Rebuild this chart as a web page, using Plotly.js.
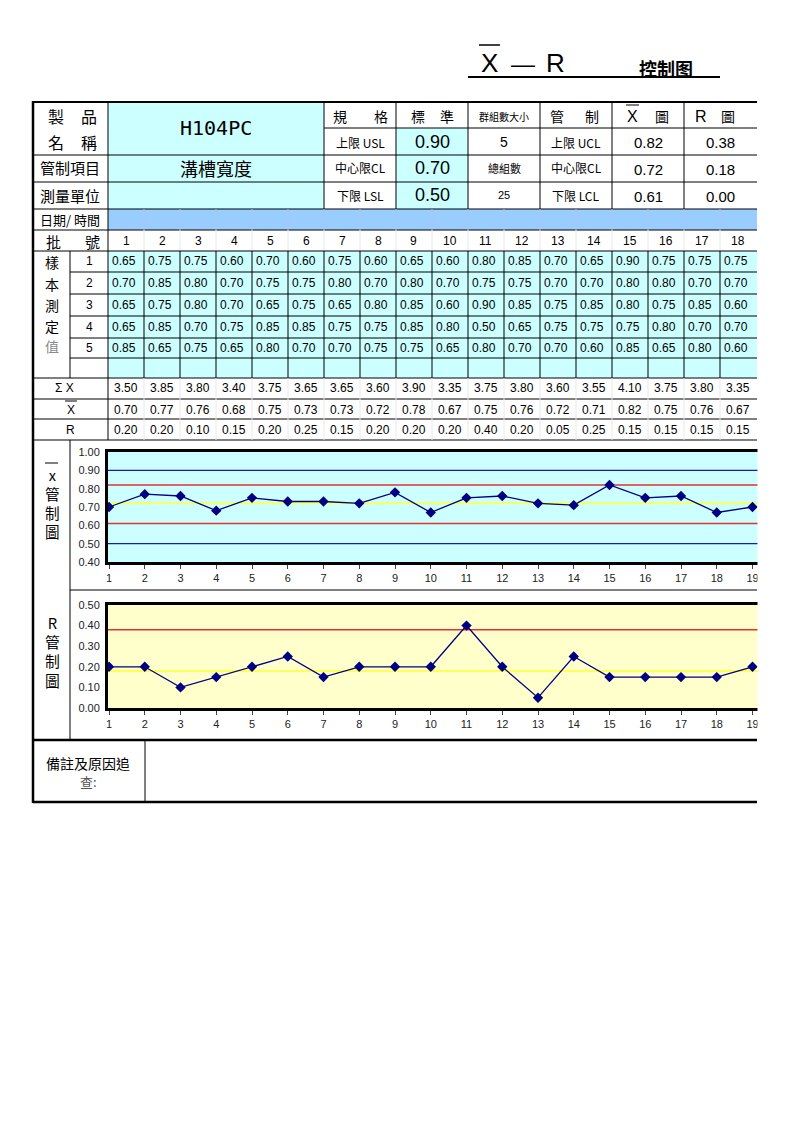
<!DOCTYPE html>
<html><head><meta charset="utf-8">
<script src="https://cdn.plot.ly/plotly-3.0.1.min.js"></script>
<style>html,body{margin:0;padding:0;background:#fff}#chart{width:793px;height:1122px}</style>
</head><body><div id="chart"></div>
<script>
// ---------- data ----------
const batchNo = [1,2,3,4,5,6,7,8,9,10,11,12,13,14,15,16,17,18];
const sample1 = [0.65,0.75,0.75,0.60,0.70,0.60,0.75,0.60,0.65,0.60,0.80,0.85,0.70,0.65,0.90,0.75,0.75,0.75];
const sample2 = [0.70,0.85,0.80,0.70,0.75,0.75,0.80,0.70,0.80,0.70,0.75,0.75,0.70,0.70,0.80,0.80,0.70,0.70];
const sample3 = [0.65,0.75,0.80,0.70,0.65,0.75,0.65,0.80,0.85,0.60,0.90,0.85,0.75,0.85,0.80,0.75,0.85,0.60];
const sample4 = [0.65,0.85,0.70,0.75,0.85,0.85,0.75,0.75,0.85,0.80,0.50,0.65,0.75,0.75,0.75,0.80,0.70,0.70];
const sample5 = [0.85,0.65,0.75,0.65,0.80,0.70,0.70,0.75,0.75,0.65,0.80,0.70,0.70,0.60,0.85,0.65,0.80,0.60];
const sumX    = [3.50,3.85,3.80,3.40,3.75,3.65,3.65,3.60,3.90,3.35,3.75,3.80,3.60,3.55,4.10,3.75,3.80,3.35];
const xbarVals= [0.70,0.77,0.76,0.68,0.75,0.73,0.73,0.72,0.78,0.67,0.75,0.76,0.72,0.71,0.82,0.75,0.76,0.67];
const rangeVals=[0.20,0.20,0.10,0.15,0.20,0.25,0.15,0.20,0.20,0.20,0.40,0.20,0.05,0.25,0.15,0.15,0.15,0.15];
// chart points (19th group visible at the cut edge)
const chartX     = [1,2,3,4,5,6,7,8,9,10,11,12,13,14,15,16,17,18,19];
const chartXbar  = [0.70,0.77,0.76,0.68,0.75,0.73,0.73,0.72,0.78,0.67,0.75,0.76,0.72,0.71,0.82,0.75,0.76,0.67,0.70];
const chartRange = [0.20,0.20,0.10,0.15,0.20,0.25,0.15,0.20,0.20,0.20,0.40,0.20,0.05,0.25,0.15,0.15,0.15,0.15,0.20];
// spec / control limits
const specLimits = ['0.90','0.70','0.50'];          // USL, CL, LSL
const xbarLimits = ['0.82','0.72','0.61'];          // UCL, CL, LCL
const rLimits    = ['0.38','0.18','0.00'];          // UCL, CL, LCL
const xbarUCL = 0.82, xbarCL = 0.72, xbarLCL = 0.61, USL = 0.90, LSL = 0.50;
const rUCL = 0.38, rCL = 0.18;
const groupSize = '5', groupCount = '25';
const productName = 'H104PC', controlItem = '溝槽寬度';

// ---------- helpers ----------
const W = 793, H = 1122;
const FONT = 'Liberation Sans, Arial, Noto Sans CJK TC, sans-serif';
const CJK = 'Noto Sans CJK TC, Liberation Sans, sans-serif';
const px = x => x / W, py = y => 1 - y / H;
const shapes = [], ann = [];
function line(x0, y0, x1, y1, color, w) {
  shapes.push({type:'line', xref:'paper', yref:'paper', x0:px(x0), y0:py(y0), x1:px(x1), y1:py(y1),
    line:{color:color || '#000', width:w || 1}, layer:'above'});
}
function rect(x0, y0, x1, y1, fill, layer) {
  shapes.push({type:'rect', xref:'paper', yref:'paper', x0:px(x0), y0:py(y0), x1:px(x1), y1:py(y1),
    fillcolor:fill, line:{width:0}, layer:layer || 'below'});
}
function text(x, y, t, size, opts) {
  const o = Object.assign({family:FONT, color:'#000', xanchor:'center'}, opts || {});
  ann.push({xref:'paper', yref:'paper', x:px(x), y:py(y), text:t, showarrow:false,
    font:{family:o.family, size:size || 12, color:o.color}, xanchor:o.xanchor, yanchor:'middle'});
}

const colX = i => 108 + 36 * i;       // left edge of data column i (0-based)
const colC = i => 126 + 36 * i;       // center

// ---------- title ----------
text(489.5, 63, 'X', 26);
line(479, 45, 500, 45, '#000', 1.5);
text(523, 64, '—', 24);
text(555, 63, 'R', 26);
text(666, 68, '<b>控制图</b>', 18, {family:CJK});
line(468, 77, 720, 77, '#000', 2);

// ---------- fills ----------
rect(108, 102, 324, 209, '#CCFFFF');
rect(396, 128, 468, 209, '#CCFFFF');
rect(108, 209, 757, 230, '#99CCFF');
rect(108, 251, 757, 378, '#CCFFFF');

// ---------- header grid ----------
[324, 396, 468, 540, 612, 684].forEach(x => line(x, 102, x, 209));
line(324, 128, 757, 128);
[155, 182, 209, 230].forEach(y => line(33, y, 757, y));
line(108, 102, 108, 440);
for (let i = 1; i < 18; i++) line(colX(i), 209, colX(i), 230, '#A8C8EC', 1);
for (let i = 1; i < 18; i++) line(colX(i), 230, colX(i), 251, '#E8E8E8', 1);
// sample rows
line(70, 251, 70, 378);
line(33, 251, 757, 251);
[272, 294, 316, 338, 358].forEach(y => line(70, y, 757, y));
for (let i = 1; i < 18; i++) line(colX(i), 251, colX(i), 378);
[378, 399, 419, 440].forEach(y => line(33, y, 757, y));
for (let i = 1; i < 18; i++) line(colX(i), 378, colX(i), 440, '#E8E8E8', 1);
// chart section
line(70, 440, 70, 740);
line(70, 590, 757, 590);
line(33, 740, 757, 740, '#000', 2.5);
line(145, 740, 145, 802);
// outer frame
line(33, 102, 757, 102, '#000', 2);
line(33, 101, 33, 803, '#000', 2.5);
line(33, 802, 757, 802, '#000', 2.5);

// ---------- header texts ----------
text(56, 116, '製', 16, {family:CJK}); text(89, 116, '品', 16, {family:CJK});
text(56, 142, '名', 16, {family:CJK}); text(89, 142, '稱', 16, {family:CJK});
text(216, 128, productName, 20, {family:'DejaVu Sans Mono, monospace'});
text(70, 168, '管制項目', 15, {family:CJK});
text(216, 168, controlItem, 18, {family:CJK});
text(70, 195, '測量單位', 15, {family:CJK});
text(340, 116, '規', 14, {family:CJK}); text(381, 116, '格', 14, {family:CJK});
text(360, 142, '上限 USL', 12, {family:CJK});
text(360, 168, '中心限CL', 12, {family:CJK});
text(360, 195, '下限 LSL', 12, {family:CJK});
text(418, 116, '標', 14, {family:CJK}); text(447, 116, '準', 14, {family:CJK});
specLimits.forEach((v, k) => text(432, 142 + 26.5 * k, v, 18));
text(504, 116, '群組數大小', 10, {family:CJK});
text(504, 142, groupSize, 14);
text(504, 168, '總組數', 11, {family:CJK});
text(504, 195, groupCount, 11);
text(557, 116, '管', 14, {family:CJK}); text(592, 116, '制', 14, {family:CJK});
text(576, 142, '上限 UCL', 12, {family:CJK});
text(576, 168, '中心限CL', 12, {family:CJK});
text(576, 195, '下限 LCL', 12, {family:CJK});
text(632, 117, 'X', 16); line(626, 105, 639, 105, '#000', 1);
text(662, 116, '圖', 14, {family:CJK});
text(701, 117, 'R', 16); text(728, 116, '圖', 14, {family:CJK});
xbarLimits.forEach((v, k) => text(648, 142 + 27 * k, v, 15));
rLimits.forEach((v, k) => text(720, 142 + 27 * k, v, 15));

text(70, 219.5, '日期/ 時間', 13, {family:CJK});
text(53, 241, '批', 15, {family:CJK}); text(92, 241, '號', 15, {family:CJK});
batchNo.forEach((b, i) => text(colC(i), 241, String(b), 12));

// sample labels
[['樣',262],['本',284],['測',305],['定',326]].forEach(([t,y]) => text(52, y, t, 14, {family:CJK}));
text(52, 346, '值', 14, {family:CJK, color:'#8a8a8a'});
const rowsY = [261.5, 283, 305, 327, 348];
[1,2,3,4,5].forEach((n, k) => text(89, rowsY[k], String(n), 12));
[sample1, sample2, sample3, sample4, sample5].forEach((arr, k) => {
  arr.forEach((v, i) => text(colX(i) + 1.5, rowsY[k], v.toFixed(2), 12, {xanchor:'left'}));
});
text(64, 388.5, 'Σ X', 12);
text(71, 410, 'X', 12); line(65, 401, 77, 401, '#000', 1);
text(70, 430, 'R', 12);
sumX.forEach((v, i) => text(colC(i), 388.5, v.toFixed(2), 12));
xbarVals.forEach((v, i) => text(colC(i), 409.5, v.toFixed(2), 12));
rangeVals.forEach((v, i) => text(colC(i), 430, v.toFixed(2), 12));

// chart side labels
text(52, 502.5, 'x<br>管<br>制<br>圖', 14.6, {family:CJK});
line(45, 463, 58, 463, '#000', 1);
text(52, 651, 'R<br>管<br>制<br>圖', 14.8, {family:CJK});

// notes
text(88, 763, '備註及原因追', 14, {family:CJK});
text(88, 781, '查:', 13, {family:CJK, color:'#555'});

// ---------- chart shapes (data-space limits) ----------
function hline(ax, v, color, w) {
  shapes.push({type:'line', xref:ax[0] + ' domain', yref:ax[1], x0:0, x1:1, y0:v, y1:v,
    line:{color:color, width:w || 1.3}, layer:'below'});
}
shapes.push({type:'rect', xref:'x domain', yref:'y domain', x0:0, x1:1, y0:0, y1:1, fillcolor:'#CCFFFF', line:{width:0}, layer:'below'});
shapes.push({type:'rect', xref:'x2 domain', yref:'y2 domain', x0:0, x1:1, y0:0, y1:1, fillcolor:'#FFFFCC', line:{width:0}, layer:'below'});
hline(['x','y'], USL, '#1A1AB0');
hline(['x','y'], LSL, '#1A1AB0');
hline(['x','y'], xbarUCL, '#E83030');
hline(['x','y'], xbarLCL, '#E83030');
hline(['x','y'], xbarCL, '#FFFF55', 2);
hline(['x2','y2'], rUCL, '#E83030', 1.5);
hline(['x2','y2'], rCL, '#FFFF55', 2);

// white overlay for the page cut at the right
rect(757.5, 0, 793, 1122, '#FFFFFF', 'above');

// ---------- chart traces ----------
const pxPerUnit = 35.75;
const xRange = [1 - 1 / pxPerUnit, 1 + 684 / pxPerUnit];
const series = {mode:'lines+markers', line:{color:'#000080', width:1.3},
  marker:{symbol:'diamond', size:8, color:'#000080'}, hoverinfo:'skip', showlegend:false};
const traces = [
  Object.assign({x:chartX, y:chartXbar, xaxis:'x', yaxis:'y'}, series),
  Object.assign({x:chartX, y:chartRange, xaxis:'x2', yaxis:'y2'}, series)
];
const axX = {range:xRange, tickvals:chartX, ticks:'outside', ticklen:4, tickcolor:'#444',
  tickfont:{family:FONT, size:11, color:'#222'}, showgrid:false, zeroline:false,
  showline:true, mirror:true, linewidth:3, linecolor:'#000', fixedrange:true};
const axY = {ticks:'', tickformat:'.2f', dtick:0.1, tickfont:{family:FONT, size:11, color:'#222'},
  showgrid:false, zeroline:false, showline:true, mirror:true, linewidth:3, linecolor:'#000',
  ticklabelstandoff:3, fixedrange:true};
const layout = {
  width:W, height:H, margin:{l:0, r:0, t:0, b:0}, paper_bgcolor:'#fff', plot_bgcolor:'rgba(0,0,0,0)',
  showlegend:false,
  xaxis: Object.assign({}, axX, {domain:[px(108), 1], anchor:'y'}),
  yaxis: Object.assign({}, axY, {domain:[py(562), py(452)], range:[0.4, 1.0], tick0:0.4, anchor:'x'}),
  xaxis2: Object.assign({}, axX, {domain:[px(108), 1], anchor:'y2'}),
  yaxis2: Object.assign({}, axY, {domain:[py(708), py(605)], range:[0, 0.5], tick0:0, anchor:'x2'}),
  shapes:shapes, annotations:ann
};
Plotly.newPlot('chart', traces, layout, {staticPlot:true, displayModeBar:false});
</script></body></html>
